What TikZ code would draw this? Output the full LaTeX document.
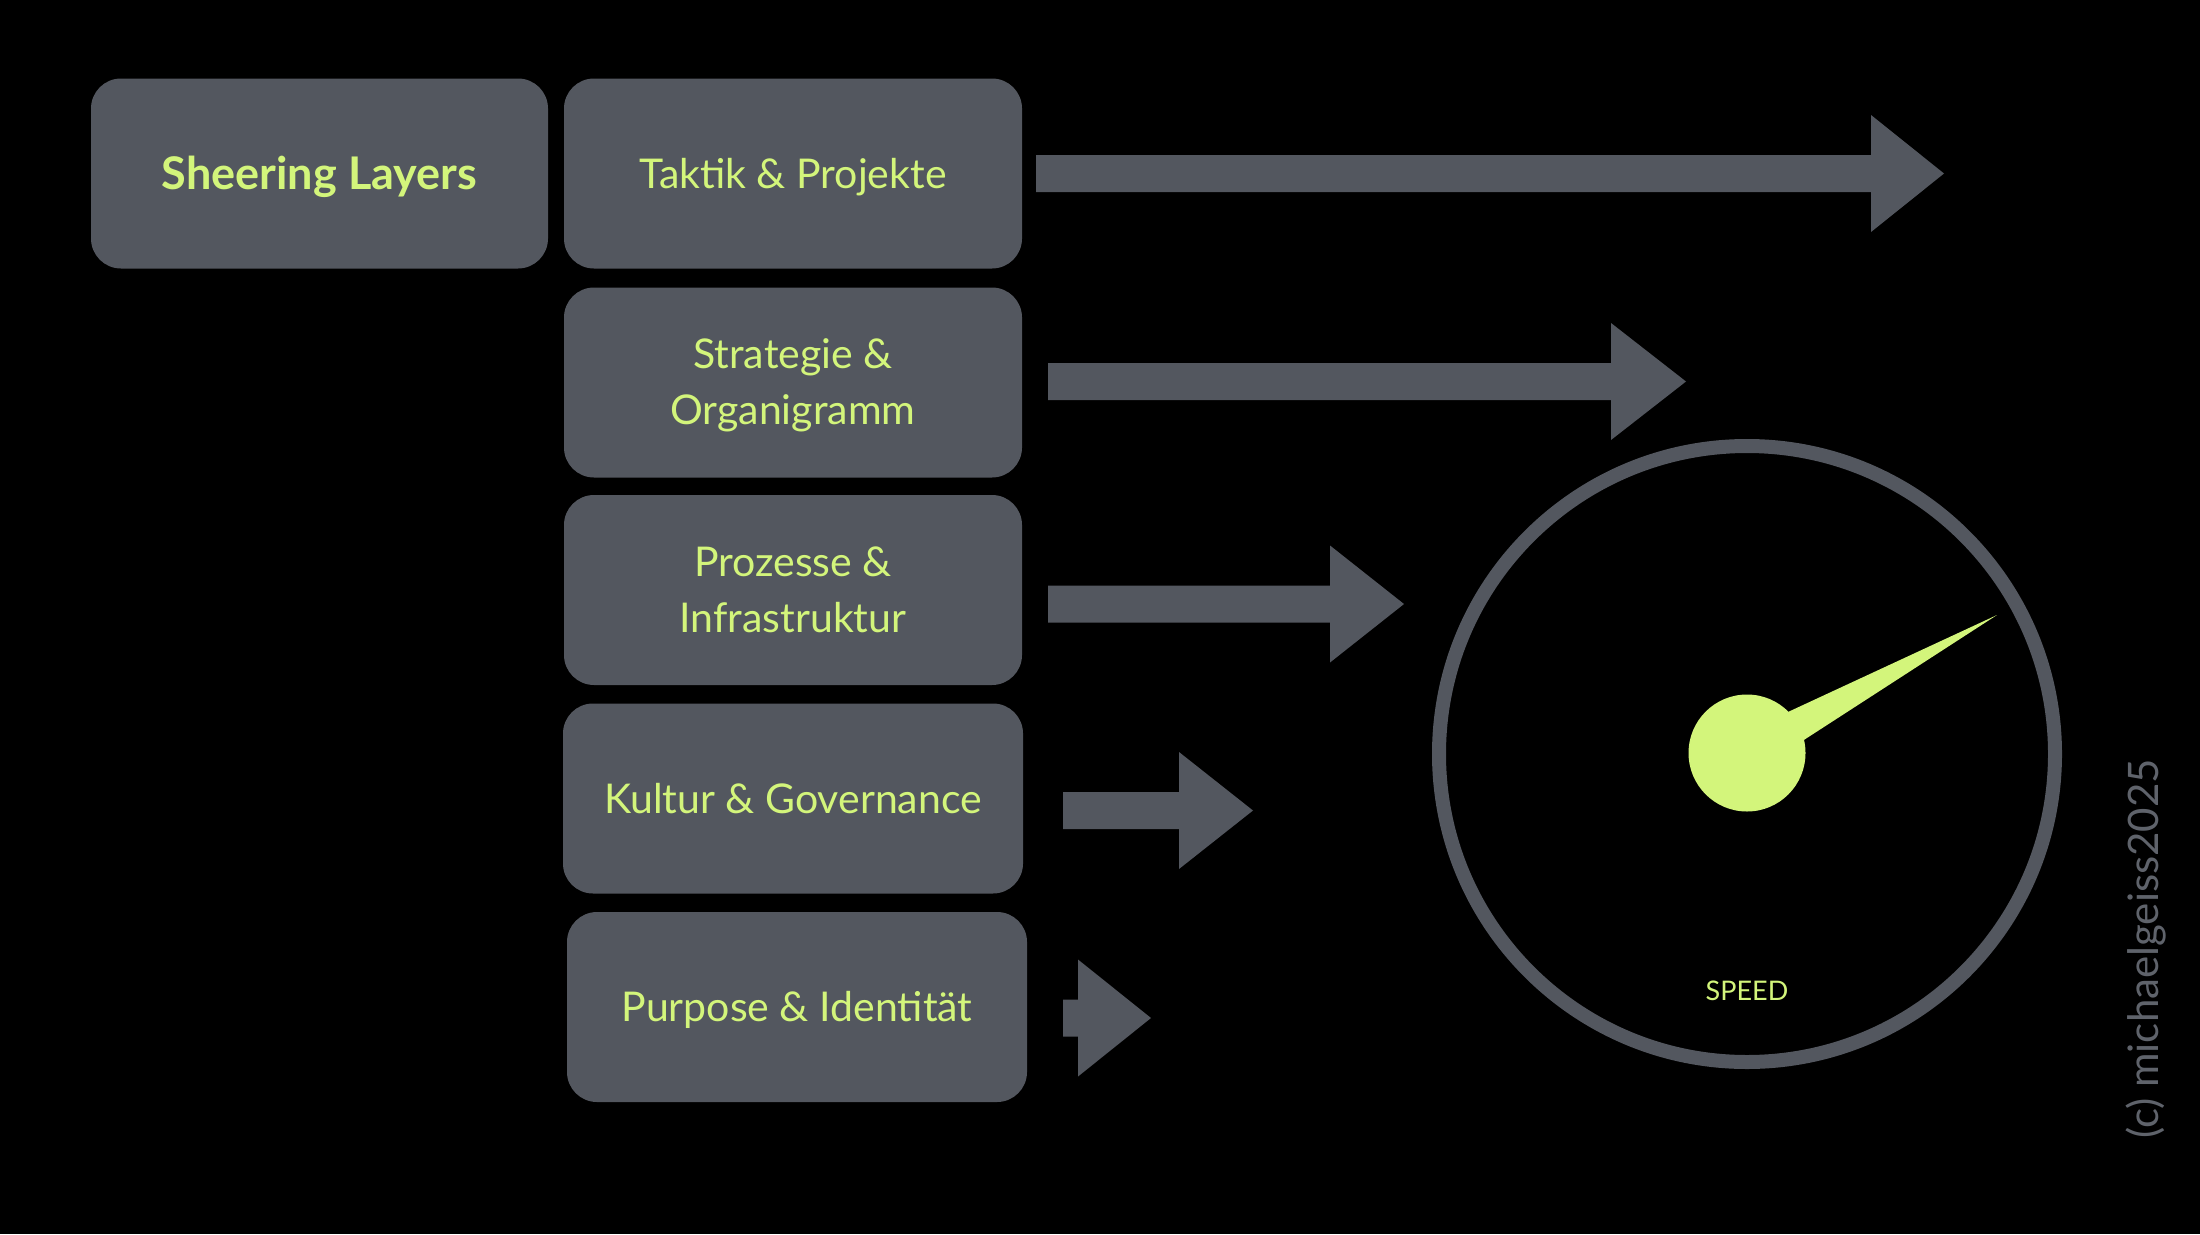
\documentclass[tikz,border=0pt]{standalone}
\usepackage{fontspec}
\setmainfont{Lato}
\usetikzlibrary{calc}
\definecolor{boxgray}{HTML}{53575F}
\definecolor{lime}{HTML}{D3F57B}
\definecolor{copygray}{HTML}{5F636B}
\newcommand{\fatarrow}[4]{% start x, head base x, tip x, centre y
  \fill[boxgray] (#1,#4-18.5) -- (#2,#4-18.5) -- (#2,#4-58.5) -- (#3,#4) -- (#2,#4+58.5) -- (#2,#4+18.5) -- (#1,#4+18.5) -- cycle;}
\begin{document}
\begin{tikzpicture}[x=1pt,y=-1pt,
  layerbox/.style={fill=boxgray, rounded corners=30pt, inner sep=0pt, minimum height=190pt},
  lbl/.style={text=lime, font=\fontsize{41}{56}\selectfont, align=center, anchor=base, inner sep=0pt}]
\fill[black] (0,0) rectangle (2200,1234);
\useasboundingbox (0,0) rectangle (2200,1234);
% boxes
\node[layerbox, minimum width=457pt] (sl) at (319.5,173.5) {};
\node[layerbox, minimum width=458pt] (tp) at (793,173.5) {};
\node[layerbox, minimum width=458pt] (so) at (793,382.5) {};
\node[layerbox, minimum width=458pt] (pi) at (793,590) {};
\node[layerbox, minimum width=460pt] (kg) at (793,798.5) {};
\node[layerbox, minimum width=460pt] (pid) at (797,1007) {};
% labels
\node[lbl, font=\fontsize{45}{56}\selectfont\bfseries] (tsl) at (319.5,189) {Sheering Layers};
\node[lbl] (ttp) at (793,188) {Taktik \& Projekte};
\node[lbl] (tso) at (793,424.5) {Strategie \&\\Organigramm};
\node[lbl] (tpi) at (793,632) {Prozesse \&\\Infrastruktur};
\node[lbl] (tkg) at (793,813) {Kultur \& Governance};
\node[lbl] (tpid) at (797,1021.5) {Purpose \& Identität};
% arrows
\fatarrow{1036}{1871}{1944}{173.5}
\fatarrow{1048}{1611}{1686}{381.5}
\fatarrow{1048}{1330}{1404}{604}
\fatarrow{1063}{1179}{1253}{810.5}
\fatarrow{1063}{1078}{1151}{1018}
% gauge
\node[circle, draw=boxgray, line width=14pt, minimum size=616pt, inner sep=0pt] (dial) at (1747,754) {};
\node[circle, fill=lime, minimum size=117pt, inner sep=0pt] (hub) at (1747,753) {};
\coordinate (tip) at (1997,615);
\fill[lime] (1756.7,770.5) -- (tip) -- (1737.3,735.5) -- cycle;
\node[text=lime, font=\fontsize{27}{30}\selectfont, anchor=base, inner sep=0pt] (speed) at (1747,1000) {SPEED};
% copyright
\node[rotate=90, text=copygray, font=\fontsize{42}{50}\selectfont, inner sep=0pt] (copy) at (2146,949) {(c) michaelgeiss2025};
\end{tikzpicture}
\end{document}
